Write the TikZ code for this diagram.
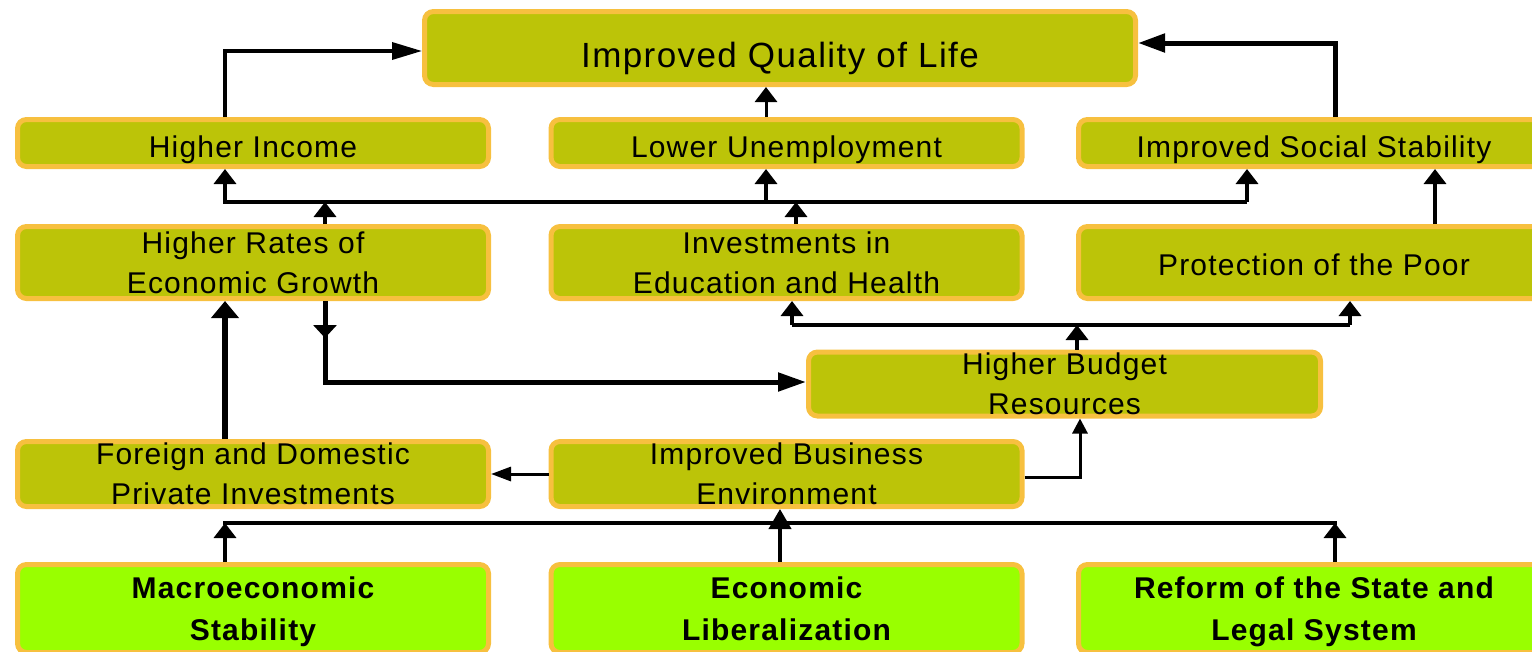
\documentclass[tikz,border=0pt]{standalone}
\usepackage{fontspec}
\setmainfont{Liberation Sans}[LetterSpace=4]
\usetikzlibrary{arrows.meta,calc}
\definecolor{boxfill}{RGB}{188,196,8}
\definecolor{boxgreen}{RGB}{153,255,0}
\definecolor{boxline}{RGB}{247,192,63}
\tikzset{
  base/.style={draw=boxline, line width=5pt, rounded corners=9pt, inner sep=0pt,
    align=center, text depth=0pt, font=\fontsize{30}{40}\selectfont},
  olive/.style={base, fill=boxfill},
  greenbox/.style={base, fill=boxgreen, font=\bfseries\fontsize{30}{42}\selectfont},
  conn/.style={line width=3.5pt, -{Triangle[length=15pt,width=22pt]}},
  thickconn/.style={line width=5pt},
  bus/.style={line width=4pt},
}
\begin{document}
\begin{tikzpicture}[x=1pt,y=-1pt]
\useasboundingbox (0,0) rectangle (1532,651);
% boxes
\node[olive, minimum width=711pt, minimum height=73pt, text height=38pt, font=\fontsize{35}{40}\selectfont] (QoL) at (780,48) {Improved Quality of Life};
\node[olive, minimum width=471pt, minimum height=47pt, text height=28pt] (HI) at (253,143) {Higher Income};
\node[olive, minimum width=471pt, minimum height=47pt, text height=28pt] (LU) at (786.5,143) {Lower Unemployment};
\node[olive, minimum width=471pt, minimum height=47pt, text height=28pt] (ISS) at (1314,143) {Improved Social Stability};
\node[olive, minimum width=471pt, minimum height=72pt] (HR) at (253,262.5) {Higher Rates of\\Economic Growth};
\node[olive, minimum width=471pt, minimum height=72pt] (IEH) at (786.5,262.5) {Investments in\\Education and Health};
\node[olive, minimum width=471pt, minimum height=72pt, text height=26pt] (PP) at (1314,262.5) {Protection of the Poor};
\node[olive, minimum width=512pt, minimum height=64pt] (HBR) at (1064.5,384) {Higher Budget\\Resources};
\node[olive, minimum width=471pt, minimum height=65pt] (FD) at (253,474) {Foreign and Domestic\\Private Investments};
\node[olive, minimum width=471pt, minimum height=65pt] (IBE) at (786.5,474) {Improved Business\\Environment};
\node[greenbox, minimum width=471pt, minimum height=88pt] (MS) at (253,608.5) {Macroeconomic\\Stability};
\node[greenbox, minimum width=471pt, minimum height=88pt] (EL) at (786.5,608.5) {Economic\\Liberalization};
\node[greenbox, minimum width=471pt, minimum height=88pt] (RS) at (1314,608.5) {Reform of the State and\\Legal System};
% reference coordinates
\coordinate (b1) at (223,202);
\coordinate (b1e) at (1247,202);
\coordinate (b2) at (792,325);
\coordinate (b2e) at (1350,325);
\coordinate (b3) at (223,523);
\coordinate (b3e) at (1337,523);
\coordinate (xHI) at (225,0);
\coordinate (xLU) at (766,0);
\coordinate (xISS) at (1335,0);
\coordinate (xGR) at (325,0);
\coordinate (xIE) at (796,0);
\coordinate (xPS) at (1435,0);
\coordinate (xBU) at (1077,0);
\coordinate (xBE) at (1080,0);
\coordinate (xEL) at (780,0);
\coordinate (yQ1) at (0,51);
\coordinate (yQ2) at (0,43);
\coordinate (yHB) at (0,382);
\coordinate (yBE) at (0,477);
\coordinate (mid) at (325,338);
% top connectors
\draw[line width=3.5pt, -{Triangle[length=30pt,width=17pt]}] (HI.north -| xHI) |- (QoL.west |- yQ1);
\draw[conn, line width=3pt] (LU.north -| xLU) -- (QoL.south -| xLU);
\draw[thickconn, -{Triangle[length=27pt,width=18pt]}] (ISS.north -| xISS) |- (QoL.east |- yQ2);
% bus at 202
\draw[bus] (b1) -- (b1e);
\draw[conn] (b1 -| xHI) -- (HI.south -| xHI);
\draw[conn] (b1 -| xLU) -- (LU.south -| xLU);
\draw[conn] (b1e) -- (ISS.south -| b1e);
\draw[conn] (HR.north -| xGR) -- (b1 -| xGR);
\draw[conn] (IEH.north -| xIE) -- (b1 -| xIE);
\draw[conn] (PP.north -| xPS) -- (ISS.south -| xPS);
% bus at 325
\draw[bus] (b2) -- (b2e);
\draw[conn] (b2) -- (IEH.south -| b2);
\draw[conn] (b2e) -- (PP.south -| b2e);
\draw[conn] (HBR.north -| xBU) -- (b2 -| xBU);
% growth to budget
\draw[thickconn, -{Triangle[length=28pt,width=18pt]}] (HR.south -| xGR) |- (HBR.west |- yHB);
\draw[thickconn, -{Triangle[length=13pt,width=23pt]}] (HR.south -| xGR) -- (mid);
% investments to growth
\draw[line width=6pt, -{Triangle[length=17pt,width=27pt]}] (FD.north -| xHI) -- (HR.south -| xHI);
% business environment
\draw[line width=3pt, -{Triangle[length=20pt,width=14pt]}] (IBE.west) -- (FD.east |- IBE.west);
\draw[line width=3pt, -{Triangle[length=15pt,width=15pt]}] (IBE.east |- yBE) -| (HBR.south -| xBE);
% bottom bus
\draw[bus] (b3) -- (b3e);
\draw[conn] (MS.north -| xHI) -- (b3 -| xHI);
\draw[conn] (RS.north -| xISS) -- (b3 -| xISS);
\draw[conn, line width=4pt, -{Triangle[length=20pt,width=22pt]}] (EL.north -| xEL) -- (IBE.south -| xEL);
\end{tikzpicture}
\end{document}
